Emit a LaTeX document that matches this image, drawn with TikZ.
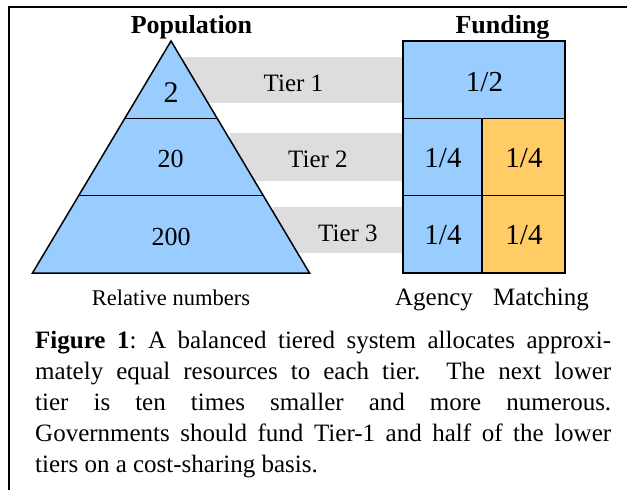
\documentclass[tikz,border=0pt]{standalone}
\usepackage{fontspec}
\setmainfont{Liberation Serif}
\usetikzlibrary{calc}
\definecolor{tblue}{HTML}{99CCFF}
\definecolor{torange}{HTML}{FFCC66}
\definecolor{tgray}{HTML}{DDDDDD}
\tikzset{
  band/.style={fill=tgray},
  outline/.style={draw=black, line width=1.5pt, line join=miter},
  lbl/.style={anchor=base, inner sep=0pt, font=\fontsize{#1}{#1}\selectfont},
  ttl/.style={anchor=base, inner sep=0pt, font=\fontsize{26}{26}\selectfont\bfseries},
}
\begin{document}
\begin{tikzpicture}[x=1pt,y=-1pt]
\useasboundingbox (0,0) rectangle (627,490);
% frame
\draw[line width=1.7pt] (627,7) -- (9,7) -- (9,490);
% gray bands
\fill[band] (183,57) rectangle (403,103);
\fill[band] (230,133) rectangle (403,181);
\fill[band] (273,207) rectangle (403,253);
% pyramid
\coordinate (apex) at (171,41);
\coordinate (bl) at (32.5,273);
\coordinate (br) at (309.5,273);
\filldraw[fill=tblue, outline] (apex) -- (br) -- (bl) -- cycle;
\draw[outline] ($(apex)!1/3!(bl)$) -- ($(apex)!1/3!(br)$);
\draw[outline] ($(apex)!2/3!(bl)$) -- ($(apex)!2/3!(br)$);
% funding box
\coordinate (ftl) at (403,41);
\coordinate (fbr) at (565,273);
\fill[tblue] (ftl) rectangle (fbr);
\fill[torange] (482,118.3) rectangle (fbr);
\draw[outline] (ftl) rectangle (fbr);
\draw[outline] (403,118.3) -- (565,118.3);
\draw[outline] (403,195.7) -- (565,195.7);
\draw[outline] (482,118.3) -- (482,273);
% titles
\node[ttl] (poptitle) at (191.5,33) {Population};
\node[ttl] (fundtitle) at (502.5,33) {Funding};
% pyramid labels
\node[lbl=30] (p1) at (171,102) {2};
\node[lbl=26] (p2) at (170.5,167) {20};
\node[lbl=26] (p3) at (171,245) {200};
% tier labels
\node[lbl=25] (t1) at (293.5,91) {Tier 1};
\node[lbl=25] (t2) at (318,167) {Tier 2};
\node[lbl=25] (t3) at (348,241) {Tier 3};
% fractions
\node[lbl=29] (f1) at (484.5,91) {1/2};
\node[lbl=29] (f2a) at (443,167) {1/4};
\node[lbl=29] (f2m) at (524,167) {1/4};
\node[lbl=29] (f3a) at (443,244) {1/4};
\node[lbl=29] (f3m) at (524,244) {1/4};
% bottom labels
\node[lbl=22.5] (rel) at (171,305) {Relative numbers};
\node[lbl=25] (agency) at (434,305) {Agency};
\node[lbl=25] (matching) at (541,305) {Matching};
% caption
\node[anchor=base west, inner sep=0pt] (caption) at (35,348) {\parbox[t]{576pt}{\fontsize{25}{31}\selectfont\frenchspacing\parindent=0pt\tolerance=10000\hyphenpenalty=10000
\textbf{Figure 1}: A balanced tiered system allocates approxi-\linebreak mately equal resources to each tier.\ \ The next lower\linebreak tier is ten times smaller and more numerous.\linebreak Governments should fund Tier-1 and half of the lower\linebreak tiers on a cost-sharing basis.}};
\end{tikzpicture}
\end{document}
